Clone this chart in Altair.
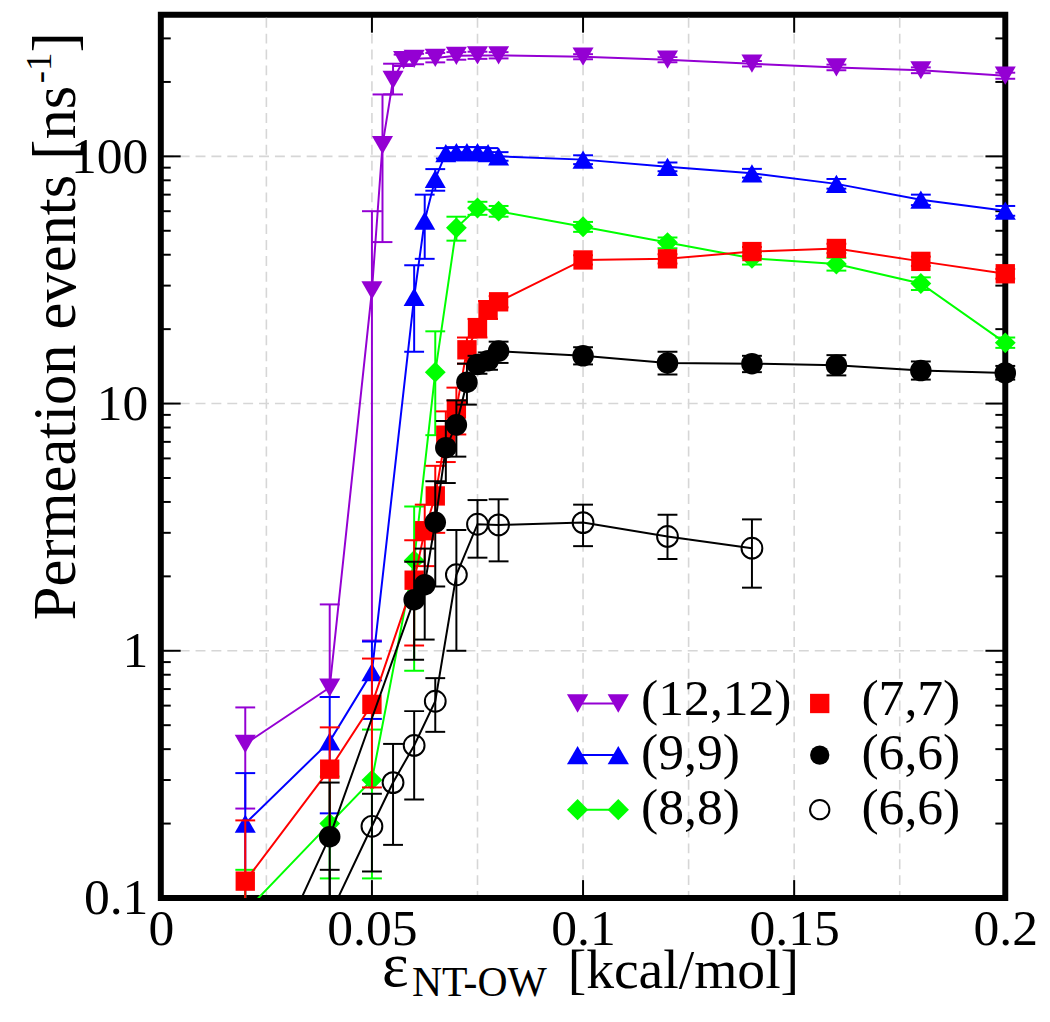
import altair as alt
import pandas as pd

# ---------------- data ----------------
p_x = [0.02, 0.04, 0.05, 0.0525, 0.055, 0.0575, 0.06, 0.065, 0.07, 0.075, 0.08, 0.1, 0.12, 0.14, 0.16, 0.18, 0.2]
p_y = [0.42, 0.71, 28.7, 111, 204, 245, 248, 250, 255, 256, 256, 253, 246, 237, 229, 223, 212]
p_lo = [0.23, 0.65, 1.1, 45, 178, 232, 236, 240, 246, 248, 249, 247, 240, 231, 223, 217, 206]
p_hi = [0.59, 1.54, 60, 178, 237, 258, 260, 262, 264, 265, 264, 259, 252, 243, 235, 229, 218]

b_x = [0.02, 0.04, 0.05, 0.06, 0.0625, 0.065, 0.0675, 0.07, 0.0725, 0.075, 0.0775, 0.08, 0.1, 0.12, 0.14, 0.16, 0.18, 0.2]
b_y = [0.20, 0.43, 0.82, 27, 55, 81, 103, 104, 104, 104, 103, 100, 97, 90.7, 85.4, 77.4, 66.8, 60.3]
b_lo = [0.08, 0.22, 0.53, 16.2, 38.5, 72.6, 98, 99, 99, 99, 98, 96, 93, 87, 82, 74, 63.5, 57.5]
b_hi = [0.32, 0.65, 1.09, 36.3, 70, 88.8, 108, 109, 109, 109, 108, 104, 101, 94.5, 89, 81, 70, 63]

g_x = [0.02, 0.04, 0.05, 0.06, 0.065, 0.07, 0.075, 0.08, 0.1, 0.12, 0.14, 0.16, 0.18, 0.2]
g_y = [0.088, 0.20, 0.30, 2.32, 13.4, 51.4, 61.8, 60, 51.9, 44.8, 38.7, 36.7, 30.6, 17.6]
g_lo = [0.05, 0.12, 0.12, 0.83, 7.45, 45.6, 58, 57, 49.5, 42.5, 36.5, 34.5, 28.8, 16.8]
g_hi = [0.13, 0.31, 0.48, 3.83, 19.6, 57, 65.5, 63, 54.3, 47, 41, 38.9, 32.4, 18.5]

r_x = [0.02, 0.04, 0.05, 0.06, 0.0625, 0.065, 0.0675, 0.07, 0.0725, 0.075, 0.0775, 0.08, 0.1, 0.12, 0.14, 0.16, 0.18, 0.2]
r_y = [0.117, 0.332, 0.607, 1.93, 3.06, 4.23, 7.45, 9.5, 16.5, 20.2, 23.9, 25.8, 38.1, 38.5, 41.2, 42.4, 37.6, 33.5]
r_lo = [0.03, 0.18, 0.28, 1.05, 2.2, 3.0, 5.8, 7.5, 14.5, 18.5, 22, 24.5, 36.5, 36.9, 39.5, 40.6, 36, 32]
r_hi = [0.206, 0.49, 0.93, 2.8, 3.9, 5.6, 9.3, 11.6, 18.5, 22, 26, 27.2, 39.8, 40.2, 43, 44.3, 39.3, 35]

k_x = [0.02, 0.04, 0.06, 0.0625, 0.065, 0.0675, 0.07, 0.0725, 0.075, 0.0775, 0.08, 0.1, 0.12, 0.14, 0.16, 0.18, 0.2]
k_y = [0.032, 0.177, 1.61, 1.85, 3.31, 6.63, 8.2, 12.2, 14.4, 14.9, 16.3, 15.6, 14.6, 14.5, 14.3, 13.6, 13.3]
k_lo = [0.01, 0.06, 0.92, 1.11, 1.82, 4.77, 6.1, 9.9, 13.2, 13.7, 14.6, 14.4, 13.1, 13.4, 13.0, 12.5, 12.5]
k_hi = [0.05, 0.293, 2.29, 2.59, 4.85, 8.5, 10.3, 14.5, 15.6, 16.1, 17.8, 16.9, 16.2, 15.6, 15.7, 14.8, 14.2]

o_x = [0.04, 0.05, 0.055, 0.06, 0.065, 0.07, 0.075, 0.08, 0.1, 0.12, 0.14]
o_y = [0.085, 0.195, 0.293, 0.414, 0.625, 2.03, 3.25, 3.23, 3.3, 2.9, 2.6]
o_lo = [0.04, 0.128, 0.164, 0.25, 0.47, 1.0, 2.38, 2.3, 2.65, 2.35, 1.8]
o_hi = [0.13, 0.264, 0.42, 0.57, 0.775, 3.08, 4.07, 4.1, 3.9, 3.55, 3.4]

names = ["(12,12)", "(9,9)", "(8,8)", "(7,7)", "(6,6)", "(6,6)"]
colors = ["#9400d3", "#0000ff", "#00ff00", "#ff0000", "#000000", "#000000"]
shapes = ["triangle-down", "triangle-up", "diamond", "square", "circle", "circle"]
fills = [True, True, True, True, True, False]
sizes = [450, 450, 440, 380, 470, 440]
xs = [p_x, b_x, g_x, r_x, k_x, o_x]
ys = [p_y, b_y, g_y, r_y, k_y, o_y]
los = [p_lo, b_lo, g_lo, r_lo, k_lo, o_lo]
his = [p_hi, b_hi, g_hi, r_hi, k_hi, o_hi]

x_ticks = [0, 0.05, 0.1, 0.15, 0.2]
x_major_in = [0.05, 0.1, 0.15]
x_grid = [0.025, 0.05, 0.075, 0.1, 0.125, 0.15, 0.175]
y_ticks = [0.1, 1, 10, 100]
y_major_in = [1, 10, 100]
y_minor = [0.2, 0.3, 0.4, 0.5, 0.6, 0.7, 0.8, 0.9, 2, 3, 4, 5, 6, 7, 8, 9,
           20, 30, 40, 50, 60, 70, 80, 90, 200, 300]
y_grid = [1, 10, 100]

# ---------------- layout ----------------
W, H = 851, 890
FONT = "Liberation Serif, Times New Roman, DejaVu Serif, serif"

xscale = alt.Scale(domain=[0, 0.2], nice=False, zero=False)
yscale = alt.Scale(type="log", domain=[0.1, 373.7], nice=False)
xaxis = alt.Axis(values=x_ticks, format="~g", title="", ticks=False, tickSize=0, domain=False,
                 grid=False, labelFont=FONT, labelFontSize=52, labelColor="black",
                 labelPadding=6, labelOverlap=False, labelFlush=False)
yaxis = alt.Axis(values=y_ticks, format="~g", title="", ticks=False, tickSize=0, domain=False,
                 grid=False, labelFont=FONT, labelFontSize=52, labelColor="black",
                 labelPadding=13, labelOverlap=False, labelFlush=False)


def X(f):
    return alt.X(f"{f}:Q", scale=xscale, axis=xaxis)


def Y(f):
    return alt.Y(f"{f}:Q", scale=yscale, axis=yaxis)


layers = []

# grid
gxdf = pd.DataFrame({"g": x_grid})
gydf = pd.DataFrame({"g": y_grid})
layers.append(alt.Chart(gxdf).mark_rule(color="#d6d6d6", strokeWidth=1.6, strokeDash=[10, 6])
              .encode(x=X("g"), y=alt.value(3), y2=alt.value(H - 3)))
layers.append(alt.Chart(gydf).mark_rule(color="#d6d6d6", strokeWidth=1.6, strokeDash=[10, 6])
              .encode(y=Y("g"), x=alt.value(3), x2=alt.value(W - 3)))

# inward ticks
txdf = pd.DataFrame({"t": x_major_in})
tydf = pd.DataFrame({"t": y_major_in})
tmdf = pd.DataFrame({"t": y_minor})
tick_style = dict(color="black", strokeWidth=2)
layers.append(alt.Chart(txdf).mark_rule(**tick_style).encode(x=X("t"), y=alt.value(H), y2=alt.value(H - 18)))
layers.append(alt.Chart(txdf).mark_rule(**tick_style).encode(x=X("t"), y=alt.value(0), y2=alt.value(18)))
layers.append(alt.Chart(tydf).mark_rule(**tick_style).encode(y=Y("t"), x=alt.value(0), x2=alt.value(20)))
layers.append(alt.Chart(tydf).mark_rule(**tick_style).encode(y=Y("t"), x=alt.value(W), x2=alt.value(W - 20)))
layers.append(alt.Chart(tmdf).mark_rule(**tick_style).encode(y=Y("t"), x=alt.value(0), x2=alt.value(10)))
layers.append(alt.Chart(tmdf).mark_rule(**tick_style).encode(y=Y("t"), x=alt.value(W), x2=alt.value(W - 10)))

# data series
for i in range(6):
    df = pd.DataFrame({"x": xs[i], "y": ys[i], "lo": los[i], "hi": his[i]})
    c = colors[i]
    base = alt.Chart(df)
    layers.append(base.mark_rule(color=c, strokeWidth=2, clip=True)
                  .encode(x=X("x"), y=Y("lo"), y2=alt.Y2("hi:Q")))
    layers.append(base.transform_filter("datum.hi >= 0.1")
                  .mark_tick(orient="horizontal", size=20, thickness=2, color=c, opacity=1)
                  .encode(x=X("x"), y=Y("hi")))
    layers.append(base.transform_filter("datum.lo >= 0.1")
                  .mark_tick(orient="horizontal", size=20, thickness=2, color=c, opacity=1)
                  .encode(x=X("x"), y=Y("lo")))
    layers.append(base.mark_line(color=c, strokeWidth=2, clip=True)
                  .encode(x=X("x"), y=Y("y")))
    if fills[i]:
        pt = base.transform_filter("datum.y >= 0.1").mark_point(
            shape=shapes[i], filled=True, size=sizes[i], color=c, opacity=1)
    else:
        pt = base.transform_filter("datum.y >= 0.1").mark_point(
            shape=shapes[i], filled=False, size=sizes[i], color=c, strokeWidth=2, opacity=1)
    layers.append(pt.encode(x=X("x"), y=Y("y")))

# legend (custom, two columns)
dummy = pd.DataFrame({"a": [0]})
row_sym_y = [694, 746, 801]
row_txt_y = [706, 760, 815]
for j in range(3):
    i = j
    c = colors[i]
    layers.append(alt.Chart(dummy).mark_rule(color=c, strokeWidth=2)
                  .encode(x=alt.value(420), x2=alt.value(461), y=alt.value(row_sym_y[j])))
    for px in (420, 461):
        layers.append(alt.Chart(dummy).mark_point(shape=shapes[i], filled=True, size=460, color=c, opacity=1)
                      .encode(x=alt.value(px), y=alt.value(row_sym_y[j])))
    layers.append(alt.Chart(dummy).mark_text(align="left", baseline="alphabetic", font=FONT,
                                             fontSize=52, color="black")
                  .encode(x=alt.value(484), y=alt.value(row_txt_y[j]), text=alt.value(names[i])))
for j in range(3):
    i = j + 3
    c = colors[i]
    if fills[i]:
        mk = alt.Chart(dummy).mark_point(shape=shapes[i], filled=True, size=380, color=c, opacity=1)
    else:
        mk = alt.Chart(dummy).mark_point(shape=shapes[i], filled=False, size=380, color=c,
                                         strokeWidth=2, opacity=1)
    layers.append(mk.encode(x=alt.value(664), y=alt.value(row_sym_y[j])))
    layers.append(alt.Chart(dummy).mark_text(align="left", baseline="alphabetic", font=FONT,
                                             fontSize=52, color="black")
                  .encode(x=alt.value(706), y=alt.value(row_txt_y[j]), text=alt.value(names[i])))

# axis titles (with sub/superscripts)
def txt(s, x, y, size, angle=0):
    m = alt.Chart(dummy).mark_text(align="left", baseline="alphabetic", font=FONT,
                                   fontSize=size, color="black", angle=angle)
    return m.encode(x=alt.value(x), y=alt.value(y), text=alt.value(s))

layers.append(txt("ε", 223, 979, 64))
layers.append(txt("NT-OW", 253, 989, 42))
layers.append(txt("[kcal/mol]", 410, 981, 56))

layers.append(txt("Permeation events [ns", -86, 610, 61, angle=270))
layers.append(txt("-1", -111, 69, 37, angle=270))
layers.append(txt("]", -86, 38, 61, angle=270))

chart = alt.layer(*layers).properties(
    width=W, height=H,
    autosize=alt.AutoSizeParams(type="none"),
    padding={"left": 154, "top": 3, "right": 37, "bottom": 108},
    background="white",
).configure_view(stroke="black", strokeWidth=6)

chart.save("out.html", embed_options={"renderer": "svg", "actions": False})
